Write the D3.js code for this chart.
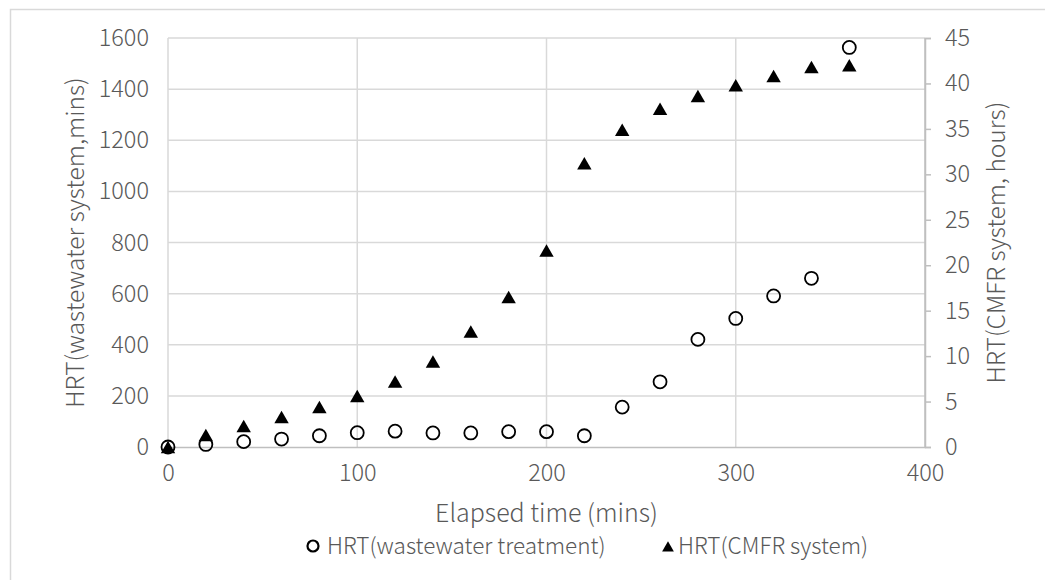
<!DOCTYPE html>
<html>
<head>
<meta charset="utf-8">
<script src="https://cdn.jsdelivr.net/npm/d3@7"></script>
<style>
  body { margin: 0; background: #fff; }
  svg text { font-family: "Noto Sans CJK SC", "Noto Sans", sans-serif; font-weight: 300; fill: #595959; }
</style>
</head>
<body>
<svg id="chart" width="1045" height="580"></svg>
<script>
// elapsed time (mins)
var times = [0, 20, 40, 60, 80, 100, 120, 140, 160, 180, 200, 220, 240, 260, 280, 300, 320, 340, 360];
// HRT wastewater treatment (mins), left axis
var hrtWastewater = [0, 10, 21, 31, 44, 56, 62, 55, 55, 60, 60, 44, 156, 255, 421, 503, 591, 660, 1563];
// HRT CMFR system (hours), right axis
var hrtCmfr = [0, 1.3, 2.3, 3.3, 4.4, 5.6, 7.2, 9.4, 12.7, 16.5, 21.6, 31.2, 34.9, 37.2, 38.6, 39.8, 40.8, 41.8, 42.0];

var xTicks = [0, 100, 200, 300, 400];
var leftTicks = [0, 200, 400, 600, 800, 1000, 1200, 1400, 1600];
var rightTicks = [0, 5, 10, 15, 20, 25, 30, 35, 40, 45];

var svg = d3.select('#chart');
var plotL = 168, plotR = 925, plotT = 38, plotB = 447;

var x = d3.scaleLinear().domain([0, 400]).range([plotL, plotR]);
var yL = d3.scaleLinear().domain([0, 1600]).range([plotB, plotT]);
var yR = d3.scaleLinear().domain([0, 45]).range([plotB, plotT]);

// chart area border
svg.append('rect')
  .attr('x', 10.5).attr('y', 9.5)
  .attr('width', 1100).attr('height', 1000)
  .attr('fill', 'none').attr('stroke', '#d9d9d9').attr('stroke-width', 1.5);

// gridlines
svg.append('g').selectAll('line')
  .data(leftTicks.slice(1))
  .enter().append('line')
  .attr('x1', plotL).attr('x2', plotR)
  .attr('y1', function(d) { return yL(d); })
  .attr('y2', function(d) { return yL(d); })
  .attr('stroke', '#d9d9d9').attr('stroke-width', 1.5);

svg.append('g').selectAll('line')
  .data(xTicks)
  .enter().append('line')
  .attr('x1', function(d) { return x(d); })
  .attr('x2', function(d) { return x(d); })
  .attr('y1', plotT).attr('y2', plotB)
  .attr('stroke', function(d) { return d === 400 ? '#bfbfbf' : '#d9d9d9'; })
  .attr('stroke-width', 1.5);

// axes
var xAxis = svg.append('g')
  .attr('transform', 'translate(0,' + plotB + ')')
  .call(d3.axisBottom(x).tickValues(xTicks).tickSize(0).tickPadding(17));
xAxis.select('.domain').attr('stroke', '#bfbfbf').attr('stroke-width', 1.5);

var leftAxis = svg.append('g')
  .attr('transform', 'translate(' + plotL + ',0)')
  .call(d3.axisLeft(yL).tickValues(leftTicks).tickFormat(d3.format('d')).tickSize(0).tickPadding(19));
leftAxis.select('.domain').remove();

var rightAxis = svg.append('g')
  .attr('transform', 'translate(' + plotR + ',0)')
  .call(d3.axisRight(yR).tickValues(rightTicks).tickSize(6).tickPadding(14));
rightAxis.select('.domain').attr('stroke', '#bfbfbf').attr('stroke-width', 1.5);
rightAxis.selectAll('.tick line').attr('stroke', '#bfbfbf').attr('stroke-width', 1.5);

svg.selectAll('.tick text').style('font-size', '23.5px').attr('fill', '#595959');

// axis titles
svg.append('text')
  .attr('x', (plotL + plotR) / 2).attr('y', 522)
  .attr('text-anchor', 'middle').style('font-size', '25px')
  .text('Elapsed time (mins)');

svg.append('text')
  .attr('transform', 'translate(84,' + (plotT + plotB) / 2 + ') rotate(-90)')
  .attr('text-anchor', 'middle').style('font-size', '24.5px')
  .text('HRT(wastewater system,mins)');

svg.append('text')
  .attr('transform', 'translate(1005,' + (plotT + plotB) / 2 + ') rotate(-90)')
  .attr('text-anchor', 'middle').style('font-size', '24.5px')
  .text('HRT(CMFR system, hours)');

// data marks
var tri = d3.symbol().type(d3.symbolTriangle).size(90);

svg.append('g').selectAll('circle')
  .data(times)
  .enter().append('circle')
  .attr('cx', function(d) { return x(d); })
  .attr('cy', function(d, i) { return yL(hrtWastewater[i]); })
  .attr('r', 6.5)
  .attr('fill', 'none').attr('stroke', '#000').attr('stroke-width', 1.8);

svg.append('g').selectAll('path')
  .data(times)
  .enter().append('path')
  .attr('d', tri)
  .attr('transform', function(d, i) { return 'translate(' + x(d) + ',' + (yR(hrtCmfr[i]) + 2) + ')'; })
  .attr('fill', '#000');

// legend
var legend = svg.append('g');
legend.append('circle')
  .attr('cx', 313).attr('cy', 546).attr('r', 5.5)
  .attr('fill', 'none').attr('stroke', '#000').attr('stroke-width', 2.2);
legend.append('text')
  .attr('x', 327).attr('y', 554).style('font-size', '22.5px')
  .text('HRT(wastewater treatment)');
legend.append('path')
  .attr('d', d3.symbol().type(d3.symbolTriangle).size(60))
  .attr('transform', 'translate(668,548)')
  .attr('fill', '#000');
legend.append('text')
  .attr('x', 678).attr('y', 554).style('font-size', '22.5px')
  .text('HRT(CMFR system)');
</script>
</body>
</html>
